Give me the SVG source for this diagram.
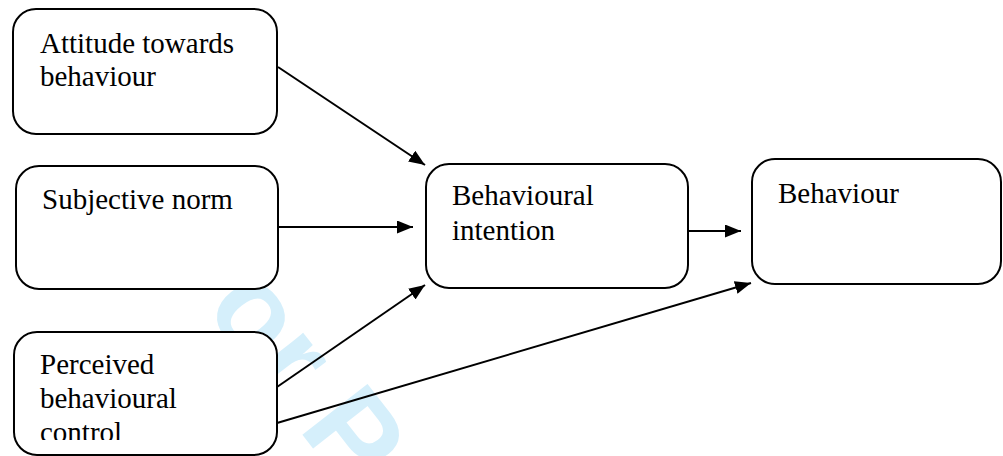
<svg xmlns="http://www.w3.org/2000/svg" width="1003" height="456" viewBox="0 0 1003 456">
<style>
.box{fill:#fff;stroke:#000;stroke-width:2}
.lbl{font-family:"Liberation Serif","Times New Roman",serif;font-size:29px;fill:#000}
.edge{stroke:#000;stroke-width:2;fill:none}
.wm{font-family:"Liberation Sans",Arial,sans-serif;font-weight:bold;font-size:120px;fill:#d5effb}
</style>
<defs>
<marker id="arr" markerUnits="userSpaceOnUse" markerWidth="18" markerHeight="14" refX="16" refY="6.5" orient="auto">
<path d="M0,0 L16,6.5 L0,13 z" fill="#000"/>
</marker>
<clipPath id="clipPBC"><rect x="14" y="332" width="264" height="108"/></clipPath>
</defs>
<rect width="1003" height="456" fill="#fff"/>
<text class="wm" x="158" y="250" transform="rotate(52 158 250)">For Peer Review</text>
<g id="connectors">
<line class="edge" x1="278" y1="67" x2="425" y2="165" marker-end="url(#arr)"/>
<line class="edge" x1="278" y1="227" x2="413" y2="227" marker-end="url(#arr)"/>
<line class="edge" x1="277" y1="387" x2="425" y2="285" marker-end="url(#arr)"/>
<line class="edge" x1="277" y1="423" x2="751" y2="283" marker-end="url(#arr)"/>
<line class="edge" x1="688" y1="231" x2="741" y2="231" marker-end="url(#arr)"/>
</g>
<g id="attitude">
<rect class="box" x="13" y="9" width="264" height="125" rx="23"/>
<text class="lbl" x="40" y="53">Attitude towards</text>
<text class="lbl" x="40" y="86">behaviour</text>
</g>
<g id="subjective-norm">
<rect class="box" x="16" y="166" width="262" height="123" rx="23"/>
<text class="lbl" x="42" y="209">Subjective norm</text>
</g>
<g id="perceived-control">
<rect class="box" x="14" y="332" width="263" height="123" rx="23"/>
<g clip-path="url(#clipPBC)">
<text class="lbl" x="40" y="374">Perceived</text>
<text class="lbl" x="40" y="408">behavioural</text>
<text class="lbl" x="40" y="442">control</text>
</g>
</g>
<g id="behavioural-intention">
<rect class="box" x="426" y="164" width="262" height="124" rx="23"/>
<text class="lbl" x="452" y="205">Behavioural</text>
<text class="lbl" x="452" y="240">intention</text>
</g>
<g id="behaviour">
<rect class="box" x="752" y="159" width="249" height="125" rx="23"/>
<text class="lbl" x="778" y="203">Behaviour</text>
</g>
</svg>
